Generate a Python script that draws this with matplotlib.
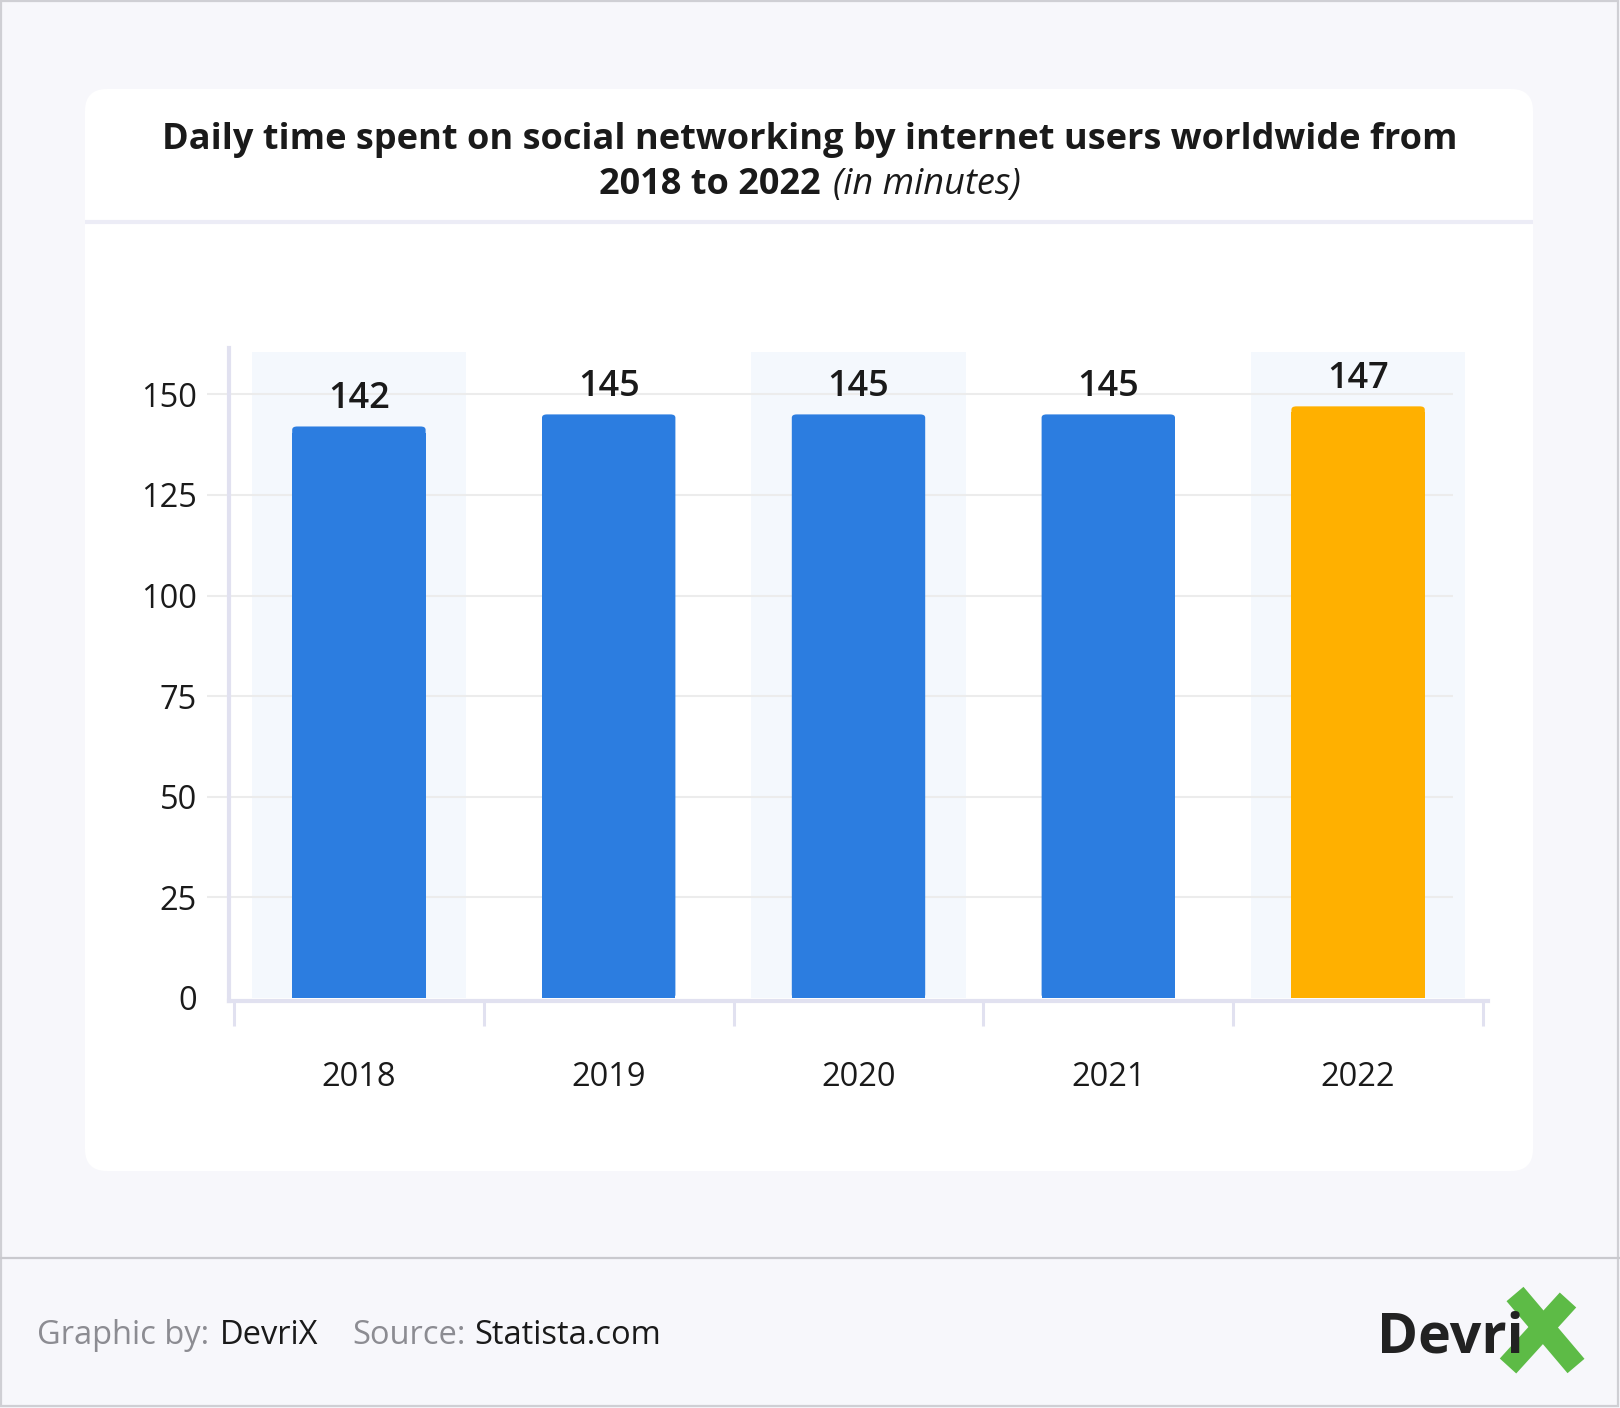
import numpy as np
import matplotlib
matplotlib.use('Agg')
import matplotlib.pyplot as plt
from matplotlib.patches import FancyBboxPatch, Rectangle

years = ['2018', '2019', '2020', '2021', '2022']
minutes = [142, 145, 145, 145, 147]
yticks = [0, 25, 50, 75, 100, 125, 150]
shaded = [0, 2, 4]  # columns with the pale background band

BLUE = '#2c7de0'
ORANGE = '#ffb000'
colors = [BLUE, BLUE, BLUE, BLUE, ORANGE]

plt.rcParams['font.family'] = ['Open Sans', 'DejaVu Sans']

W, H = 1620, 1408
fig = plt.figure(figsize=(W / 100, H / 100), dpi=100)
fig.patch.set_facecolor('#f7f7fb')

# background layer in pixel coordinates
bg = fig.add_axes([0, 0, 1, 1], zorder=-1)
bg.set_xlim(0, W)
bg.set_ylim(H, 0)
bg.axis('off')
bg.add_patch(FancyBboxPatch((85, 89), 1448, 1082,
                            boxstyle='round,pad=0,rounding_size=22',
                            fc='white', ec='none'))
bg.plot([85, 1533], [222, 222], color='#ececf6', lw=3, solid_capstyle='butt')
bg.plot([0, W], [1258, 1258], color='#c9c9ce', lw=1.6)
bg.add_patch(Rectangle((1, 1), W - 3, H - 3, fill=False, ec='#cfcfd4', lw=1.6))

# title
fig.text(810 / W, 1 - 140 / H,
         'Daily time spent on social networking by internet users worldwide from',
         ha='center', va='center', fontsize=26, fontweight='bold', color='#1a1a1a')
fig.text(821 / W, 1 - 185 / H, '2018 to 2022', ha='right', va='center',
         fontsize=26, fontweight='bold', color='#1a1a1a')
fig.text(833 / W, 1 - 185 / H, '(in minutes)', ha='left', va='center',
         fontsize=26, style='italic', color='#1a1a1a')

# chart
ax = fig.add_axes([229 / W, 1 - 1001.2 / H, 1259 / W, 653.2 / H])
ax.set_facecolor('none')
x = np.arange(len(years))
ax.set_xlim(-0.52, 4.52)
ax.set_ylim(-0.8, 161.5)

for i in shaded:
    ax.bar(x[i], 160.5, width=0.857, color='#f4f8fd', zorder=0)
ax.hlines(yticks[1:], -0.61, 4.38, color='#ececec', lw=1.5, zorder=1, clip_on=False)
for xi, v, c in zip(x, minutes, colors):
    ax.add_patch(FancyBboxPatch((xi - 0.267, 0), 0.534, v,
                                boxstyle='round,pad=0,rounding_size=0.02',
                                mutation_aspect=1 / 0.02 * 0.8,
                                fc=c, ec='none', zorder=2))
    ax.bar(xi, v - 1.5, width=0.534, color=c, zorder=2)

for xi, v in zip(x, minutes):
    ax.annotate(str(v), (xi, v), xytext=(0, 20), textcoords='offset points',
                ha='center', va='center', fontsize=26, fontweight='semibold',
                color='#1a1a1a', zorder=3)

for s in ['top', 'right']:
    ax.spines[s].set_visible(False)
for s in ['left', 'bottom']:
    ax.spines[s].set_color('#e1e1f0')
    ax.spines[s].set_linewidth(3)

ax.set_yticks(yticks)
ax.set_yticklabels([str(t) for t in yticks])
ax.tick_params(axis='y', length=0, pad=23, labelsize=23.5, labelcolor='#1a1a1a')

ax.set_xticks(x)
ax.set_xticklabels(years)
ax.tick_params(axis='x', which='major', length=0, pad=43, labelsize=23.5, labelcolor='#1a1a1a')
ax.set_xticks(np.arange(-0.5, 5.0, 1.0), minor=True)
ax.tick_params(axis='x', which='minor', length=18, width=2.2, color='#e1e1f0')

# footer
fy = 1 - 1335 / H
fig.text(37 / W, fy, 'Graphic by:', ha='left', va='center', fontsize=23.5, color='#8c8c92')
fig.text(220 / W, fy, 'DevriX', ha='left', va='center', fontsize=23.5, color='#1a1a1a')
fig.text(352 / W, fy, 'Source:', ha='left', va='center', fontsize=23.5, color='#8c8c92')
fig.text(474 / W, fy, 'Statista.com', ha='left', va='center', fontsize=23.5, color='#1a1a1a')

# logo
fig.text(1377 / W, 1 - 1338 / H, 'Devri', ha='left', va='center', fontsize=40,
         fontweight='bold', color='#222222')
bg.plot([1515, 1576], [1294, 1366], color='#5dbb46', lw=16, solid_capstyle='butt')
bg.plot([1568, 1508], [1300, 1366], color='#5dbb46', lw=16, solid_capstyle='butt')

fig.savefig('out.png', dpi=100, facecolor=fig.get_facecolor())
